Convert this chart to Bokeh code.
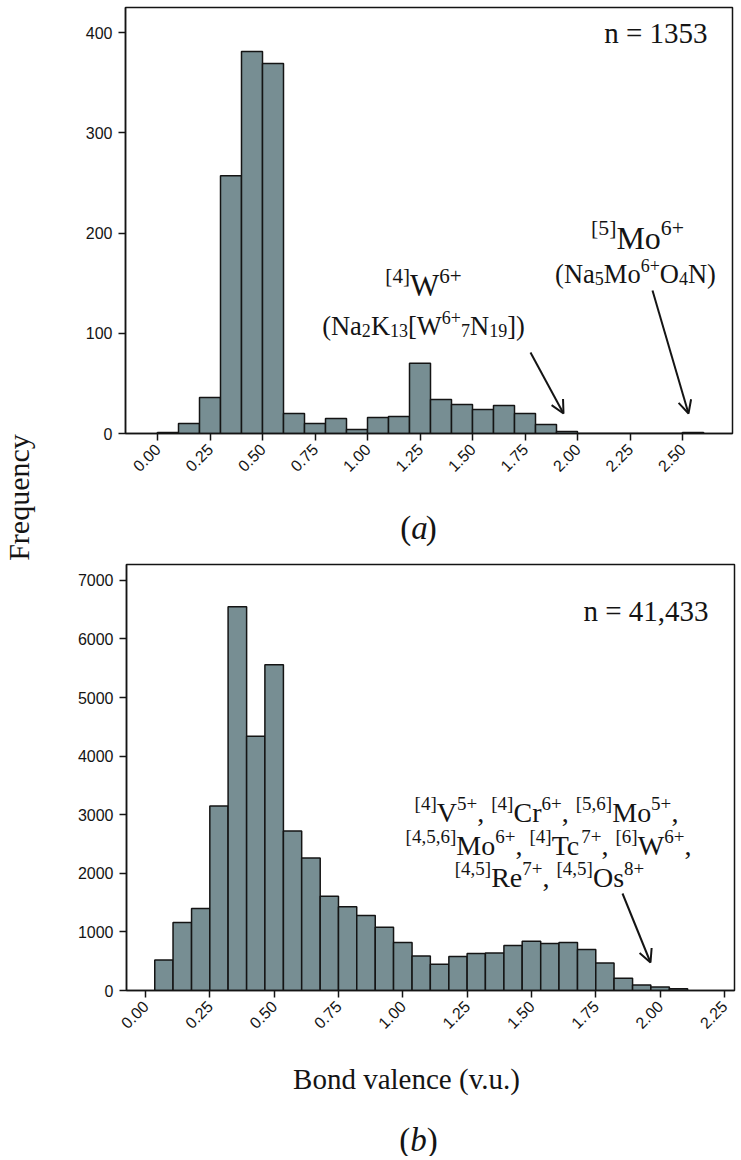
import math
from bokeh.plotting import figure
from bokeh.models import Label, Arrow, OpenHead, FixedTicker, Range1d
from bokeh.layouts import column, row
from bokeh.embed import file_html
from bokeh.resources import INLINE

# ------------------------------------------------------------------ data
# (a) bond valences of N-coordinated ions, n = 1353
a_bin_left = [0.0, 0.1, 0.2, 0.3, 0.4, 0.5, 0.6, 0.7, 0.8, 0.9, 1.0, 1.1, 1.2,
              1.3, 1.4, 1.5, 1.6, 1.7, 1.8, 1.9, 2.0, 2.1, 2.2, 2.3, 2.4, 2.5]
a_bin_right = [0.1, 0.2, 0.3, 0.4, 0.5, 0.6, 0.7, 0.8, 0.9, 1.0, 1.1, 1.2, 1.3,
               1.4, 1.5, 1.6, 1.7, 1.8, 1.9, 2.0, 2.1, 2.2, 2.3, 2.4, 2.5, 2.6]
a_counts = [1, 10, 36, 257, 381, 369, 20, 10, 15, 4, 16, 17, 70,
            34, 29, 24, 28, 20, 9, 2, 0, 0, 0, 0, 0, 1]
a_xticks = [0.0, 0.25, 0.5, 0.75, 1.0, 1.25, 1.5, 1.75, 2.0, 2.25, 2.5]
a_xlabels = ["0.00", "0.25", "0.50", "0.75", "1.00", "1.25", "1.50", "1.75", "2.00", "2.25", "2.50"]
a_yticks = [0, 100, 200, 300, 400]

# (b) bond valences of O-coordinated ions, n = 41,433
b_bin_left = [0.036, 0.107, 0.179, 0.250, 0.321, 0.393, 0.464, 0.536, 0.607, 0.679,
              0.750, 0.821, 0.893, 0.964, 1.036, 1.107, 1.179, 1.250, 1.321, 1.393,
              1.464, 1.536, 1.607, 1.679, 1.750, 1.821, 1.893, 1.964, 2.036]
b_bin_right = [0.107, 0.179, 0.250, 0.321, 0.393, 0.464, 0.536, 0.607, 0.679, 0.750,
               0.821, 0.893, 0.964, 1.036, 1.107, 1.179, 1.250, 1.321, 1.393, 1.464,
               1.536, 1.607, 1.679, 1.750, 1.821, 1.893, 1.964, 2.036, 2.107]
b_counts = [520, 1160, 1400, 3150, 6550, 4340, 5560, 2720, 2260, 1610,
            1430, 1280, 1080, 820, 590, 450, 580, 630, 640, 770,
            840, 800, 820, 700, 470, 210, 95, 60, 30]
b_xticks = [0.0, 0.25, 0.5, 0.75, 1.0, 1.25, 1.5, 1.75, 2.0, 2.25]
b_xlabels = ["0.00", "0.25", "0.50", "0.75", "1.00", "1.25", "1.50", "1.75", "2.00", "2.25"]
b_yticks = [0, 1000, 2000, 3000, 4000, 5000, 6000, 7000]

# ------------------------------------------------------------------ style
SERIF = "Liberation Serif"
SANS = "Liberation Sans"
INK = "#141414"
BAR = "#778E93"

# Times-Roman advance widths (1/1000 em) for placing rich-text runs
TW = {' ': 250, ',': 250, '.': 250, '(': 333, ')': 333, '[': 333, ']': 333,
      '+': 564, '=': 564, 'W': 944, 'M': 889, 'o': 500, 'N': 722, 'a': 444,
      'K': 722, 'V': 722, 'C': 667, 'r': 333, 'T': 611, 'c': 444, 'R': 667,
      'e': 444, 'O': 722, 's': 389, 'n': 500, 'b': 500}


class Geo:
    """page pixel -> data coordinate conversion for one canvas"""
    def __init__(self, px0, ppu_x, py0, ppu_y):
        self.px0, self.ppu_x, self.py0, self.ppu_y = px0, ppu_x, py0, ppu_y

    def x(self, px):
        return (px - self.px0) / self.ppu_x

    def y(self, py):
        return (self.py0 - py) / self.ppu_y


def rich(p, geo, runs, cx, base, size, ratio=0.68, anchor="center"):
    small = size * ratio
    widths = []
    for text, kind in runs:
        s = small if kind in ("sup", "sub") else size
        widths.append(sum(TW.get(ch, 500) for ch in text) / 1000.0 * s)
    total = sum(widths)
    x = cx - total / 2.0 if anchor == "center" else cx
    for (text, kind), w in zip(runs, widths):
        s = small if kind in ("sup", "sub") else size
        dy = {"sup": -0.31 * size, "sub": 0.2 * size}.get(kind, 0.0)
        p.add_layout(Label(x=geo.x(x), y=geo.y(base + dy), text=text,
                           text_font=SERIF, text_font_size=f"{s:.1f}px",
                           text_font_style="italic" if kind == "i" else "normal",
                           text_align="left", text_baseline="alphabetic",
                           text_color=INK))
        x += w


def style(p, ticks, labels, yticks):
    p.xaxis.ticker = FixedTicker(ticks=ticks)
    p.xaxis.major_label_overrides = {t: l for t, l in zip(ticks, labels)}
    p.yaxis.ticker = FixedTicker(ticks=yticks)
    for ax in (p.xaxis[0], p.yaxis[0]):
        ax.axis_line_color = INK
        ax.axis_line_width = 1.5
        ax.major_tick_line_color = INK
        ax.major_tick_line_width = 1.5
        ax.major_tick_in = 0
        ax.major_tick_out = 7
        ax.minor_tick_line_color = None
        ax.major_label_text_font = SANS
        ax.major_label_text_font_size = "16px"
        ax.major_label_text_color = INK
    p.xaxis.major_label_orientation = math.pi / 4
    p.xaxis.major_label_standoff = 6
    p.yaxis.major_label_standoff = 6
    p.xgrid.grid_line_color = None
    p.ygrid.grid_line_color = None
    p.outline_line_color = INK
    p.outline_line_width = 1.5
    p.background_fill_color = "white"
    p.border_fill_color = "white"


def text_canvas(width, height):
    t = figure(width=width, height=height, output_backend="svg", toolbar_location=None,
               x_range=Range1d(0, width), y_range=Range1d(0, height),
               x_axis_type=None, y_axis_type=None, min_border=0, frame_align=False)
    t.outline_line_color = None
    t.xgrid.grid_line_color = None
    t.ygrid.grid_line_color = None
    return t


LEFT = 40     # page x where the panel column starts (page has no margin)
W = 700       # width of the panel column
H_TOTAL = 1156

# ------------------------------------------------------------------ "Frequency"
pf = text_canvas(LEFT, H_TOTAL)
gf = Geo(0, 1.0, H_TOTAL, 1.0)
pf.add_layout(Label(x=gf.x(18), y=gf.y(497), text="Frequency", text_font=SERIF,
                    text_font_size="30px", angle=math.pi / 2, text_align="center",
                    text_baseline="middle", text_color=INK))

# ------------------------------------------------------------------ panel (a)
ga = Geo(157, 210.0, 433, 1.0025)
pa = figure(width=W, height=490, output_backend="svg", toolbar_location=None,
            x_range=Range1d(ga.x(125), ga.x(732)), y_range=Range1d(0, ga.y(7)),
            min_border_left=125 - LEFT, min_border_right=LEFT + W - 732,
            min_border_top=7, min_border_bottom=490 - 433, frame_align=False)
pa.quad(left=a_bin_left, right=a_bin_right, bottom=0, top=a_counts,
        fill_color=BAR, line_color=INK, line_width=1.5)
style(pa, a_xticks, a_xlabels, a_yticks)

pa.add_layout(Label(x=ga.x(707), y=ga.y(32), text="n = 1353", text_font=SERIF,
                    text_font_size="29px", text_align="right",
                    text_baseline="alphabetic", text_color=INK))
rich(pa, ga, [("[4]", "sup"), ("W", "n"), ("6+", "sup")], 423, 285, 31)
rich(pa, ga, [("(Na", "n"), ("2", "sub"), ("K", "n"), ("13", "sub"), ("[W", "n"),
              ("6+", "sup"), ("7", "sub"), ("N", "n"), ("19", "sub"), ("])", "n")],
     423, 325, 26.5)
rich(pa, ga, [("[5]", "sup"), ("Mo", "n"), ("6+", "sup")], 637, 237, 32)
rich(pa, ga, [("(Na", "n"), ("5", "sub"), ("Mo", "n"), ("6+", "sup"), ("O", "n"),
              ("4", "sub"), ("N)", "n")], 635, 273, 26.5)
for (x0, y0, x1, y1) in [(530, 352, 563, 413), (652, 290, 688, 413)]:
    pa.add_layout(Arrow(end=OpenHead(size=13, line_width=2, line_color=INK),
                        x_start=ga.x(x0), y_start=ga.y(y0),
                        x_end=ga.x(x1), y_end=ga.y(y1),
                        line_width=2, line_color=INK))

pa_txt = text_canvas(W, 58)
gat = Geo(LEFT, 1.0, 548, 1.0)
rich(pa_txt, gat, [("(", "n"), ("a", "i"), (")", "n")], 418, 527, 33)

# ------------------------------------------------------------------ panel (b)
gb = Geo(145, 257.3, 990, 0.0586)
pb = figure(width=W, height=492, output_backend="svg", toolbar_location=None,
            x_range=Range1d(gb.x(126), gb.x(734)), y_range=Range1d(0, gb.y(564)),
            min_border_left=126 - LEFT, min_border_right=LEFT + W - 734,
            min_border_top=564 - 548, min_border_bottom=1040 - 990, frame_align=False)
pb.quad(left=b_bin_left, right=b_bin_right, bottom=0, top=b_counts,
        fill_color=BAR, line_color=INK, line_width=1.5)
style(pb, b_xticks, b_xlabels, b_yticks)

pb.add_layout(Label(x=gb.x(708), y=gb.y(610), text="n = 41,433", text_font=SERIF,
                    text_font_size="29px", text_align="right",
                    text_baseline="alphabetic", text_color=INK))
rich(pb, gb, [("[4]", "sup"), ("V", "n"), ("5+", "sup"), (", ", "n"),
              ("[4]", "sup"), ("Cr", "n"), ("6+", "sup"), (", ", "n"),
              ("[5,6]", "sup"), ("Mo", "n"), ("5+", "sup"), (",", "n")], 546, 812, 28)
rich(pb, gb, [("[4,5,6]", "sup"), ("Mo", "n"), ("6+", "sup"), (", ", "n"),
              ("[4]", "sup"), ("Tc", "n"), ("7+", "sup"), (", ", "n"),
              ("[6]", "sup"), ("W", "n"), ("6+", "sup"), (",", "n")], 548, 845, 28)
rich(pb, gb, [("[4,5]", "sup"), ("Re", "n"), ("7+", "sup"), (", ", "n"),
              ("[4,5]", "sup"), ("Os", "n"), ("8+", "sup")], 549, 877, 28)
pb.add_layout(Arrow(end=OpenHead(size=13, line_width=2, line_color=INK),
                    x_start=gb.x(622), y_start=gb.y(893),
                    x_end=gb.x(650), y_end=gb.y(962),
                    line_width=2, line_color=INK))

pb_txt = text_canvas(W, H_TOTAL - 1040)
gbt = Geo(LEFT, 1.0, H_TOTAL, 1.0)
pb_txt.add_layout(Label(x=gbt.x(406), y=gbt.y(1078), text="Bond valence (v.u.)",
                        text_font=SERIF, text_font_size="29px", text_align="center",
                        text_baseline="alphabetic", text_color=INK))
rich(pb_txt, gbt, [("(", "n"), ("b", "i"), (")", "n")], 418, 1139, 33)

layout = row(pf, column(pa, pa_txt, pb, pb_txt))
open("out.html", "w").write(file_html(layout, INLINE))
